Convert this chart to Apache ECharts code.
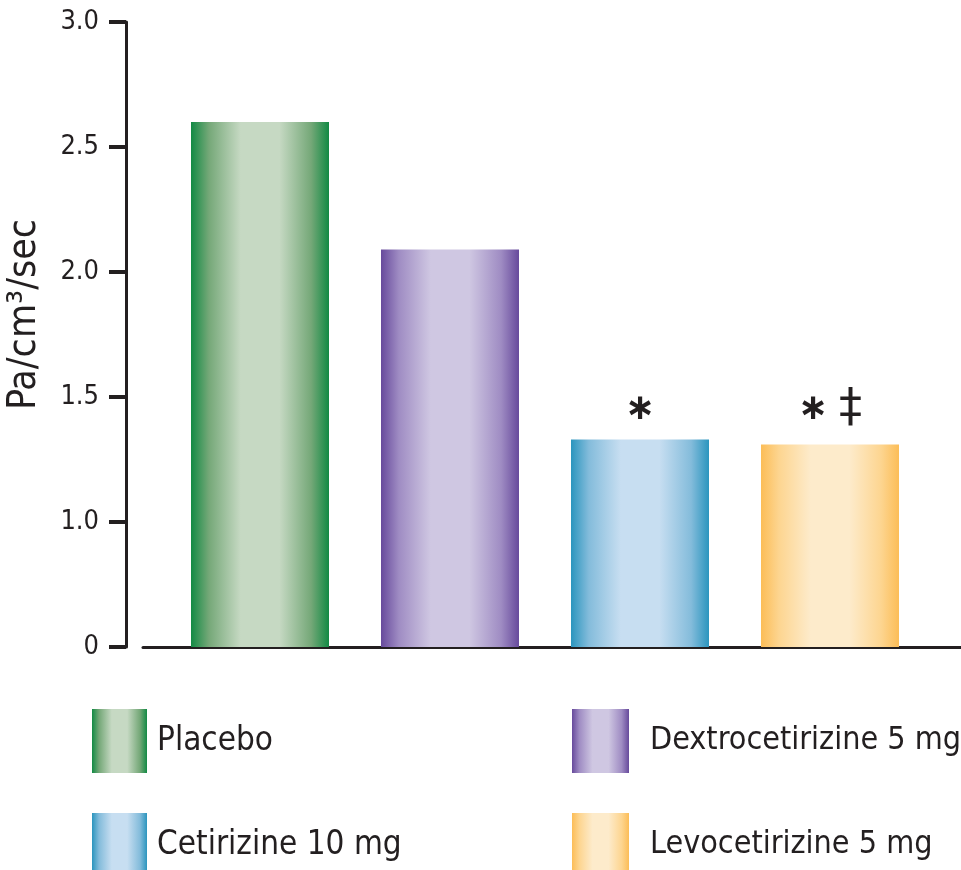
<!DOCTYPE html>
<html>
<head>
<meta charset="utf-8">
<script src="https://cdn.jsdelivr.net/npm/echarts@6/dist/echarts.min.js"></script>
<style>
html,body{margin:0;padding:0;background:#fff;}
#chart{width:961px;height:870px;}
</style>
</head>
<body>
<div id="chart"></div>
<script>
// ---- data ----
const categories = ['Placebo', 'Dextrocetirizine 5 mg', 'Cetirizine 10 mg', 'Levocetirizine 5 mg'];
const values = [2.60, 2.09, 1.33, 1.31];
const annotations = ['', '', '\u2217', '\u2217 \u2021'];
const yTickValues = [0.5, 1.0, 1.5, 2.0, 2.5, 3.0];
const yTickLabels = ['0', '1.0', '1.5', '2.0', '2.5', '3.0'];
const yAxisName = 'Pa/cm\u00b3/sec';

// colours: [edge, mid, light]
const palettes = [
  ['#128a44', '#75a878', '#c6d9c3'],
  ['#674a9c', '#9f8cc3', '#cfc7e2'],
  ['#2b95be', '#84bcdb', '#c7def1'],
  ['#fcbd57', '#fdd590', '#fdebcb']
];

// pick a condensed font that is installed
function hasFont(name) {
  const c = document.createElement('canvas').getContext('2d');
  c.font = '40px monospace';
  const w0 = c.measureText('Dextrocetirizine 5 mg').width;
  c.font = "40px '" + name + "', monospace";
  return Math.abs(c.measureText('Dextrocetirizine 5 mg').width - w0) > 0.5;
}
const NARROW = hasFont('Liberation Sans Narrow');
const FONT = NARROW ? "'Liberation Sans Narrow', sans-serif" : "'DejaVu Sans Condensed', sans-serif";
const SZ = NARROW
  ? { tick: 28, legendL: 40, legendR: 39, name: 44 }
  : { tick: 27, legendL: 33, legendR: 32, name: 39 };
const INK = '#231f20';

function grad(p) {
  return new echarts.graphic.LinearGradient(0, 0, 1, 0, [
    { offset: 0, color: p[0] },
    { offset: 0.13, color: p[1] },
    { offset: 0.36, color: p[2] },
    { offset: 0.64, color: p[2] },
    { offset: 0.87, color: p[1] },
    { offset: 1, color: p[0] }
  ]);
}

function richText(s) {
  return s.replace(/\u2217/g, '{a|\u2217}').replace(/\u2021/g, '{d|\u2021}');
}

const series = categories.map((name, i) => ({
  name: name,
  type: 'bar',
  stack: 'all',
  clip: true,
  barWidth: 138,
  data: [[i, values[i]]],
  itemStyle: { color: grad(palettes[i]) },
  label: {
    show: annotations[i] !== '',
    position: 'top',
    distance: 12,
    formatter: () => richText(annotations[i]),
    fontFamily: "'DejaVu Sans', sans-serif",
    fontSize: 34,
    color: INK,
    rich: {
      a: { fontFamily: "'DejaVu Sans', sans-serif", fontSize: 36, fontWeight: 'bold', color: INK },
      d: { fontFamily: "'DejaVu Sans', sans-serif", fontSize: 46, color: INK }
    }
  },
  emphasis: { disabled: true }
}));

const chart = echarts.init(document.getElementById('chart'), null, { renderer: 'canvas' });
chart.setOption({
  animation: false,
  backgroundColor: '#fff',
  grid: { left: 143, right: 0, top: 22, bottom: 223, containLabel: false, outerBoundsMode: 'none' },
  xAxis: {
    type: 'value',
    min: -0.6158,
    max: 3.6895,
    axisLine: { show: true, onZero: false, lineStyle: { color: INK, width: 3 } },
    axisTick: { show: false },
    axisLabel: { show: false },
    splitLine: { show: false }
  },
  yAxis: {
    type: 'value',
    min: yTickValues[0],
    max: yTickValues[yTickValues.length - 1],
    interval: 0.5,
    offset: 17,
    name: yAxisName,
    nameLocation: 'middle',
    nameRotate: 90,
    nameGap: 82,
    nameTextStyle: { fontFamily: FONT, fontSize: SZ.name, color: INK, padding: [0, 0, 0, 40] },
    axisLine: { show: true, onZero: false, lineStyle: { color: INK, width: 3 } },
    axisTick: { show: true, length: 17, lineStyle: { color: INK, width: 4 } },
    axisLabel: {
      margin: 27,
      fontFamily: FONT,
      fontSize: SZ.tick,
      color: INK,
      formatter: (v) => {
        const k = yTickValues.findIndex(t => Math.abs(t - v) < 1e-9);
        return k >= 0 ? yTickLabels[k] : '';
      }
    },
    splitLine: { show: false }
  },
  legend: [
    {
      left: 92, top: 709, height: 220, orient: 'vertical', itemGap: 40, padding: 0,
      itemWidth: 55, itemHeight: 64, icon: 'rect',
      selectedMode: false,
      data: [categories[0], categories[2]],
      textStyle: { fontFamily: FONT, fontSize: SZ.legendL, color: INK, padding: [0, 0, 0, 5] }
    },
    {
      left: 572, top: 709, height: 220, orient: 'vertical', itemGap: 40, padding: 0,
      itemWidth: 57, itemHeight: 64, icon: 'rect',
      selectedMode: false,
      data: [categories[1], categories[3]],
      textStyle: { fontFamily: FONT, fontSize: SZ.legendR, color: INK, padding: [0, 0, 0, 16] }
    }
  ],
  series: series
});
</script>
</body>
</html>
